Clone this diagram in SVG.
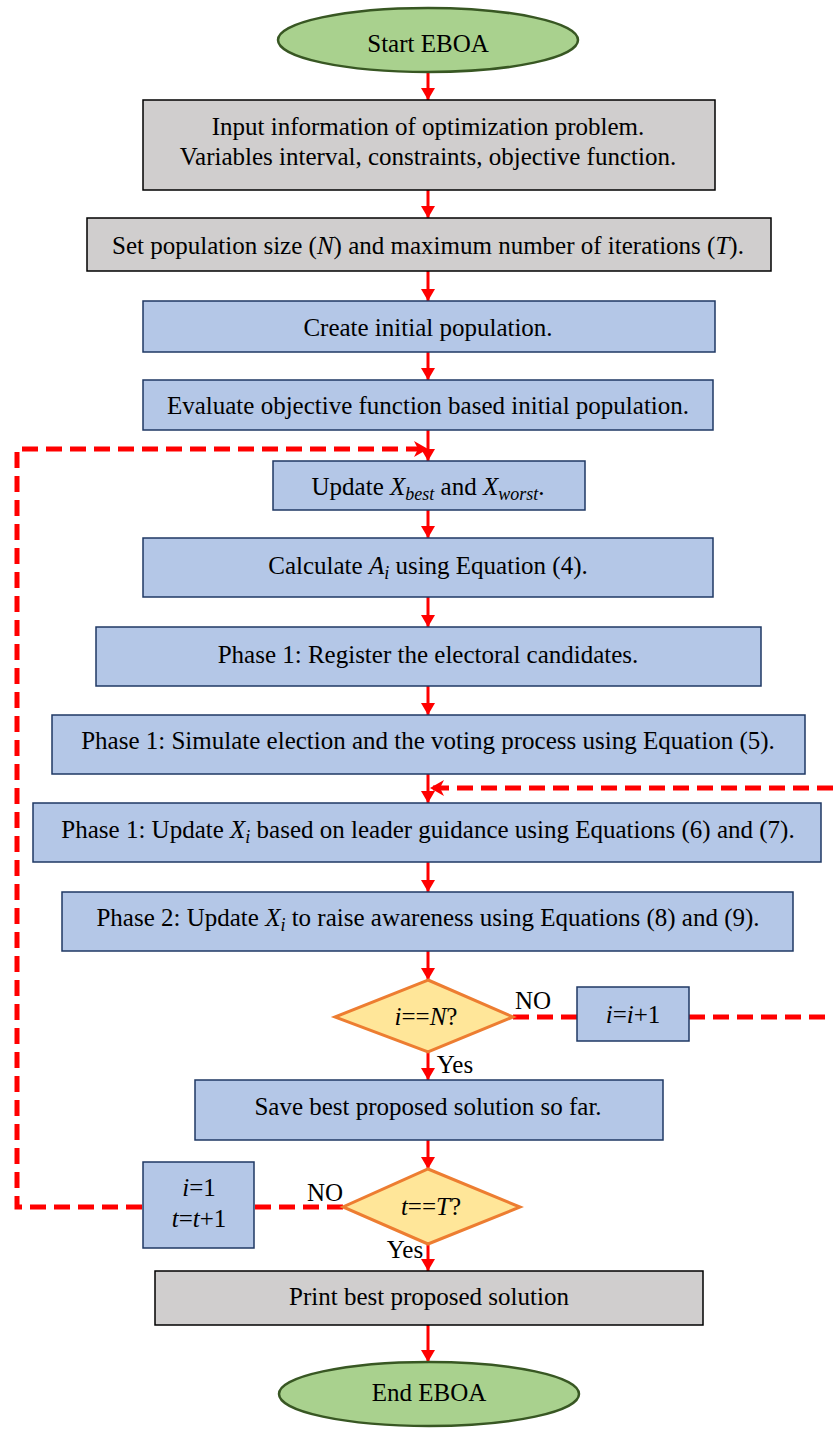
<svg xmlns="http://www.w3.org/2000/svg" width="833" height="1431" viewBox="0 0 833 1431">
<style>
text{font-family:"Liberation Serif","Times New Roman",serif;font-size:25px;fill:#000;text-anchor:middle}
.gray{fill:#d0cece;stroke:#000;stroke-width:1.5}
.blue{fill:#b4c7e7;stroke:#1f3864;stroke-width:1.5}
.term{fill:#a9d18e;stroke:#385723;stroke-width:2.5}
.dec{fill:#ffe699;stroke:#ed7d31;stroke-width:3}
.sol{stroke:#ff0000;stroke-width:3;fill:none}
.dash{stroke:#ff0000;stroke-width:5;fill:none;stroke-dasharray:16 8}
.it{font-style:italic}
.sub{font-style:italic;font-size:18px}
</style>
<defs>
<marker id="ah" viewBox="0 0 12 14" refX="12" refY="7" markerWidth="12" markerHeight="14" markerUnits="userSpaceOnUse" orient="auto">
<path d="M0,0 L12,7 L0,14 Z" fill="#ff0000"/>
</marker>
<marker id="ahd" viewBox="0 0 14 16" refX="14" refY="8" markerWidth="14" markerHeight="16" markerUnits="userSpaceOnUse" orient="auto">
<path d="M0,0 L14,8 L0,16 L4,8 Z" fill="#ff0000"/>
</marker>
</defs>
<g id="connectors">
<line class="sol" x1="428" y1="72" x2="428" y2="100" marker-end="url(#ah)"/>
<line class="sol" x1="428" y1="190" x2="428" y2="218" marker-end="url(#ah)"/>
<line class="sol" x1="428" y1="271" x2="428" y2="301" marker-end="url(#ah)"/>
<line class="sol" x1="428" y1="352" x2="428" y2="380" marker-end="url(#ah)"/>
<line class="sol" x1="428" y1="430" x2="428" y2="461" marker-end="url(#ah)"/>
<line class="sol" x1="428" y1="510" x2="428" y2="538" marker-end="url(#ah)"/>
<line class="sol" x1="428" y1="597" x2="428" y2="627" marker-end="url(#ah)"/>
<line class="sol" x1="428" y1="686" x2="428" y2="715" marker-end="url(#ah)"/>
<line class="sol" x1="428" y1="774" x2="428" y2="803" marker-end="url(#ah)"/>
<line class="sol" x1="428" y1="862" x2="428" y2="892" marker-end="url(#ah)"/>
<line class="sol" x1="428" y1="951" x2="428" y2="980" marker-end="url(#ah)"/>
<line class="sol" x1="428" y1="1052" x2="428" y2="1080" marker-end="url(#ah)"/>
<line class="sol" x1="428" y1="1140" x2="428" y2="1169" marker-end="url(#ah)"/>
<line class="sol" x1="428" y1="1244" x2="428" y2="1271" marker-end="url(#ah)"/>
<line class="sol" x1="428" y1="1325" x2="428" y2="1362" marker-end="url(#ah)"/>
<polyline class="dash" points="142,1207 17,1207 17,449 428,449" marker-end="url(#ahd)"/>
<line class="dash" x1="343" y1="1207" x2="255" y2="1207"/>
<line class="dash" x1="513" y1="1017" x2="577" y2="1017"/>
<polyline class="dash" points="689,1017 833,1017"/>
<line class="dash" x1="833" y1="788" x2="430" y2="788" marker-end="url(#ahd)"/>
</g>
<g id="start">
<ellipse class="term" cx="428" cy="40" rx="150" ry="32"/>
<text x="428" y="52">Start EBOA</text>
</g>
<g id="input">
<rect class="gray" x="143" y="100" width="572" height="90"/>
<text x="428" y="135">Input information of optimization problem.</text>
<text x="428" y="165">Variables interval, constraints, objective function.</text>
</g>
<g id="setpop">
<rect class="gray" x="87" y="218" width="684" height="53"/>
<text x="428" y="254">Set population size (<tspan class="it">N</tspan>) and maximum number of iterations (<tspan class="it">T</tspan>).</text>
</g>
<g id="create">
<rect class="blue" x="143" y="301" width="572" height="51"/>
<text x="428" y="336">Create initial population.</text>
</g>
<g id="evaluate">
<rect class="blue" x="143" y="380" width="570" height="50"/>
<text x="428" y="414">Evaluate objective function based initial population.</text>
</g>
<g id="update">
<rect class="blue" x="273" y="461" width="312" height="49"/>
<text x="428" y="495">Update <tspan class="it">X</tspan><tspan class="sub" dy="5">best</tspan><tspan dy="-5"> and </tspan><tspan class="it">X</tspan><tspan class="sub" dy="5">worst</tspan><tspan dy="-5">.</tspan></text>
</g>
<g id="calc">
<rect class="blue" x="143" y="538" width="570" height="59"/>
<text x="428" y="574">Calculate <tspan class="it">A</tspan><tspan class="sub" dy="5">i</tspan><tspan dy="-5"> using Equation (4).</tspan></text>
</g>
<g id="register">
<rect class="blue" x="96" y="627" width="665" height="59"/>
<text x="428" y="663">Phase 1: Register the electoral candidates.</text>
</g>
<g id="simulate">
<rect class="blue" x="52" y="715" width="753" height="59"/>
<text x="428" y="749">Phase 1: Simulate election and the voting process using Equation (5).</text>
</g>
<g id="phase1update">
<rect class="blue" x="33" y="803" width="788" height="59"/>
<text x="428" y="838">Phase 1: Update <tspan class="it">X</tspan><tspan class="sub" dy="5">i</tspan><tspan dy="-5"> based on leader guidance using Equations (6) and (7).</tspan></text>
</g>
<g id="phase2">
<rect class="blue" x="62" y="892" width="731" height="59"/>
<text x="428" y="926">Phase 2: Update <tspan class="it">X</tspan><tspan class="sub" dy="5">i</tspan><tspan dy="-5"> to raise awareness using Equations (8) and (9).</tspan></text>
</g>
<g id="decisionN">
<polygon class="dec" points="428,980 513,1017 428,1052 335,1017"/>
<text x="426" y="1025"><tspan class="it">i</tspan>==<tspan class="it">N</tspan>?</text>
<text x="533" y="1009">NO</text>
<text x="455" y="1073">Yes</text>
</g>
<g id="incI">
<rect class="blue" x="577" y="987" width="112" height="54"/>
<text x="633" y="1023"><tspan class="it">i</tspan>=<tspan class="it">i</tspan>+1</text>
</g>
<g id="save">
<rect class="blue" x="195" y="1080" width="468" height="60"/>
<text x="428" y="1115">Save best proposed solution so far.</text>
</g>
<g id="decisionT">
<polygon class="dec" points="428,1169 520,1207 428,1244 343,1207"/>
<text x="431" y="1215"><tspan class="it">t</tspan>==<tspan class="it">T</tspan>?</text>
<text x="325" y="1201">NO</text>
<text x="405" y="1258">Yes</text>
</g>
<g id="reset">
<rect class="blue" x="143" y="1162" width="111" height="86"/>
<text x="199" y="1196"><tspan class="it">i</tspan>=1</text>
<text x="199" y="1227"><tspan class="it">t</tspan>=<tspan class="it">t</tspan>+1</text>
</g>
<g id="print">
<rect class="gray" x="155" y="1271" width="548" height="54"/>
<text x="429" y="1305">Print best proposed solution</text>
</g>
<g id="end">
<ellipse class="term" cx="429" cy="1394" rx="150" ry="32"/>
<text x="429" y="1401">End EBOA</text>
</g>
</svg>
